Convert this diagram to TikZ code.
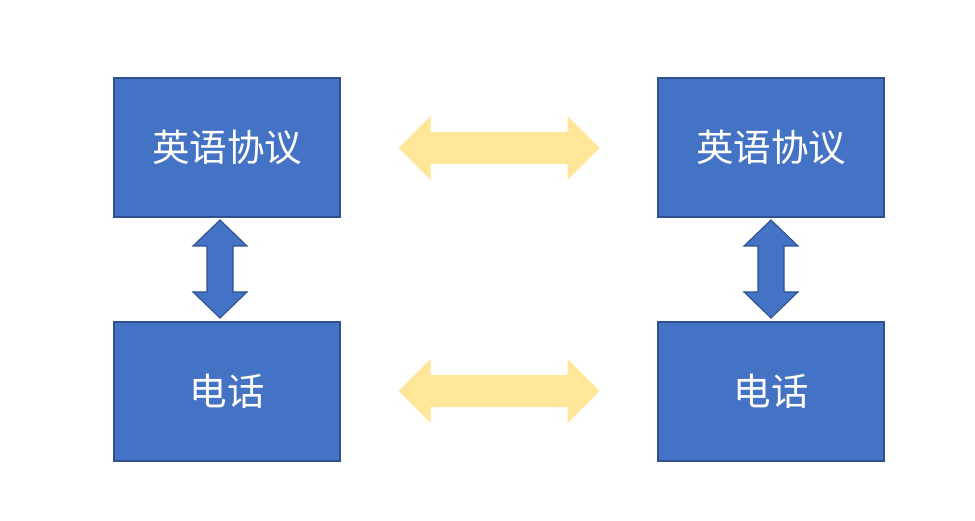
\documentclass[tikz,border=0pt]{standalone}
\usepackage{fontspec}
\newfontfamily\cjk{Noto Sans CJK SC}
\definecolor{boxfill}{HTML}{4472C4}
\definecolor{boxline}{HTML}{2F528F}
\definecolor{yel}{HTML}{FFE699}
\tikzset{
  blockbox/.style={draw=boxline, line width=1.5pt, fill=boxfill, minimum width=226pt, minimum height=139pt, inner sep=0pt, text=white, font=\cjk\fontsize{37.5}{42}\selectfont},
  varrow/.style={draw=boxline, line width=1.1pt, fill=boxfill, line join=miter},
  harrow/.style={fill=yel}
}
\begin{document}
\begin{tikzpicture}[x=1pt,y=-1pt]
\useasboundingbox (0,0) rectangle (975,521);
\node[blockbox] (ltop) at (227,147.5) {英语协议};
\node[blockbox] (rtop) at (771,147.5) {英语协议};
\node[blockbox] (lbot) at (227,391.5) {电话};
\node[blockbox] (rbot) at (771,391.5) {电话};
% vertical double arrows
\coordinate (lv) at (220,269);
\coordinate (rv) at (771,269);
\foreach \c in {lv,rv}{
  \draw[varrow,shift={(\c)}] (0,-49) -- (27,-23) -- (13,-23) -- (13,23) -- (27,23) -- (0,49) -- (-27,23) -- (-13,23) -- (-13,-23) -- (-27,-23) -- cycle;
}
% horizontal double arrows
\coordinate (ht) at (499,148);
\coordinate (hb) at (499,391);
\foreach \c in {ht,hb}{
  \fill[harrow,shift={(\c)}] (-100.5,0) -- (-68.5,-32) -- (-68.5,-16) -- (68.5,-16) -- (68.5,-32) -- (100.5,0) -- (68.5,32) -- (68.5,16) -- (-68.5,16) -- (-68.5,32) -- cycle;
}
\end{tikzpicture}
\end{document}
